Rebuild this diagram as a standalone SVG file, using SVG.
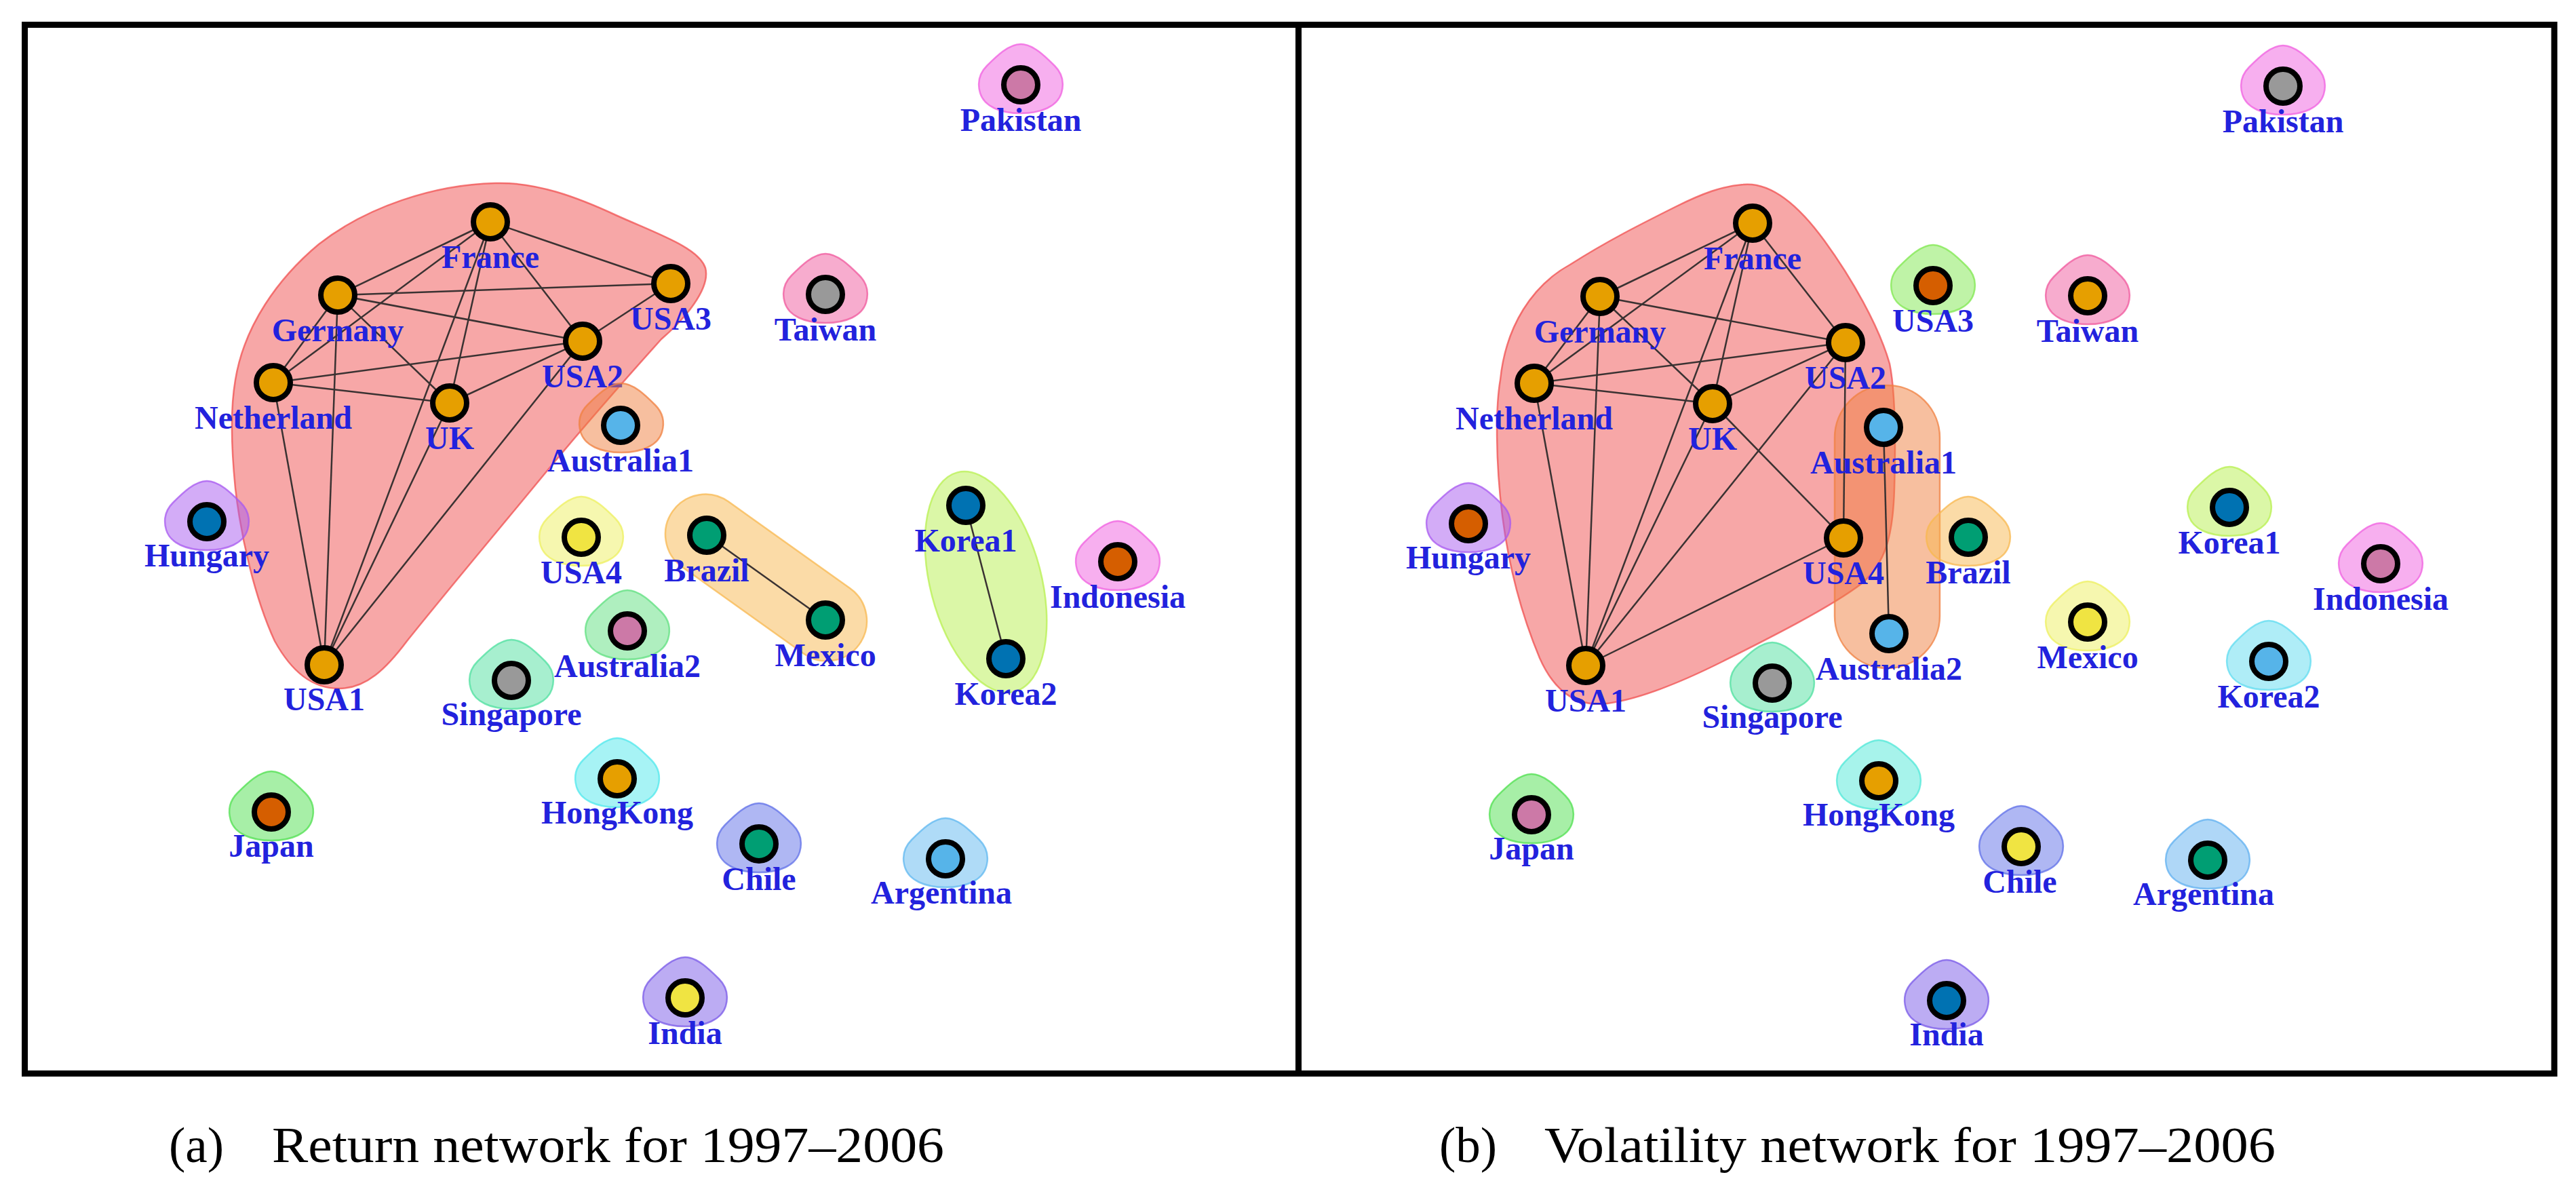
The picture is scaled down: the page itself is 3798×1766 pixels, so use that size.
<svg xmlns="http://www.w3.org/2000/svg" xmlns:xlink="http://www.w3.org/1999/xlink" width="3798" height="1766" viewBox="0 0 3798 1766">
<style>
.hl{fill:currentColor;stroke:currentColor;fill-opacity:.5;stroke-opacity:.75;stroke-width:2.5}
.n{stroke:#000;stroke-width:8}
.lb{font-family:"Liberation Serif",serif;font-weight:bold;font-size:48px;fill:#2222dd;text-anchor:middle}
.e{stroke:#3a3232;stroke-width:2.5;fill:none}
.cap{font-family:"Liberation Serif",serif;font-size:73px;fill:#000}
.or{fill:#e69f00}.sb{fill:#56b4e9}.gr{fill:#009e73}.ye{fill:#f0e442}.bl{fill:#0072b2}.vm{fill:#d55e00}.rp{fill:#cc79a7}.gy{fill:#999999}
</style>
<defs>
<path id="hl" d="M0,-60 C18,-60 36,-42 50,-28 C62,-16 64,-2 60,12 C54,32 30,42 0,42 C-30,42 -54,32 -60,12 C-64,-2 -62,-16 -50,-28 C-36,-42 -18,-60 0,-60 Z"/>
</defs>
<rect width="3798" height="1766" fill="#fff"/>
<g id="frame" fill="none" stroke="#000" stroke-width="9">
<rect x="36.5" y="36.5" width="3729.5" height="1546"/>
<line x1="1914.5" y1="36.5" x2="1914.5" y2="1582.5"/>
</g>
<g id="groups">
<path class="hl" color="#f05050" d="M 730,270 C 790,268 850,290 910,318 C 970,345 1030,365 1040,395 C 1048,425 1010,470 975,500 C 930,550 860,630 810,690 C 740,775 660,870 600,945 C 570,985 540,1015 500,1015 C 460,1015 430,990 405,945 C 375,880 355,790 347,720 C 340,650 340,600 347,560 C 360,480 410,410 470,360 C 540,305 640,272 730,270 Z"/>
<rect class="hl" color="#f8b850" x="960.5" y="792.5" width="338" height="118" rx="59" transform="rotate(35.5 1129.5 851.5)"/>
<ellipse class="hl" color="#b8f050" cx="1453.5" cy="858" rx="167" ry="82" transform="rotate(75.4 1453.5 858)"/>
<path class="hl" color="#f05050" d="M 2570,272 C 2610,268 2650,300 2690,355 C 2730,410 2770,480 2786,536 C 2795,580 2795,650 2793,720 C 2791,790 2780,830 2745,860 C 2700,895 2600,945 2540,975 C 2480,1005 2420,1030 2370,1037 C 2320,1043 2290,1015 2270,970 C 2245,910 2225,840 2215,760 C 2205,680 2205,600 2212,560 C 2220,480 2260,420 2315,390 C 2370,355 2420,330 2470,305 C 2510,285 2540,274 2570,272 Z"/>
<rect class="hl" color="#f08040" x="2705" y="568" width="155" height="417" rx="77"/>
</g>
<g id="edges" class="e">
<line x1="723" y1="327" x2="498" y2="435"/>
<line x1="723" y1="327" x2="989" y2="418"/>
<line x1="723" y1="327" x2="859" y2="503"/>
<line x1="723" y1="327" x2="403" y2="564"/>
<line x1="723" y1="327" x2="663" y2="594"/>
<line x1="723" y1="327" x2="478" y2="980"/>
<line x1="498" y1="435" x2="989" y2="418"/>
<line x1="498" y1="435" x2="859" y2="503"/>
<line x1="498" y1="435" x2="403" y2="564"/>
<line x1="498" y1="435" x2="663" y2="594"/>
<line x1="498" y1="435" x2="478" y2="980"/>
<line x1="989" y1="418" x2="859" y2="503"/>
<line x1="859" y1="503" x2="403" y2="564"/>
<line x1="859" y1="503" x2="663" y2="594"/>
<line x1="859" y1="503" x2="478" y2="980"/>
<line x1="403" y1="564" x2="663" y2="594"/>
<line x1="403" y1="564" x2="478" y2="980"/>
<line x1="663" y1="594" x2="478" y2="980"/>
<line x1="1042" y1="789" x2="1217" y2="914"/>
<line x1="1424" y1="745" x2="1483" y2="971"/>
<line x1="2584" y1="329" x2="2359" y2="437"/>
<line x1="2584" y1="329" x2="2721" y2="505"/>
<line x1="2584" y1="329" x2="2262" y2="565"/>
<line x1="2584" y1="329" x2="2525" y2="595"/>
<line x1="2584" y1="329" x2="2338" y2="981"/>
<line x1="2359" y1="437" x2="2721" y2="505"/>
<line x1="2359" y1="437" x2="2262" y2="565"/>
<line x1="2359" y1="437" x2="2525" y2="595"/>
<line x1="2359" y1="437" x2="2338" y2="981"/>
<line x1="2721" y1="505" x2="2262" y2="565"/>
<line x1="2721" y1="505" x2="2525" y2="595"/>
<line x1="2721" y1="505" x2="2338" y2="981"/>
<line x1="2721" y1="505" x2="2718" y2="793"/>
<line x1="2262" y1="565" x2="2525" y2="595"/>
<line x1="2262" y1="565" x2="2338" y2="981"/>
<line x1="2525" y1="595" x2="2338" y2="981"/>
<line x1="2525" y1="595" x2="2718" y2="793"/>
<line x1="2338" y1="981" x2="2718" y2="793"/>
<line x1="2777" y1="630" x2="2785" y2="934"/>
</g>
<g id="a-pakistan"><use href="#hl" x="1505" y="125" class="hl" color="#f060e0"/><circle cx="1505" cy="125" r="25" class="n rp"/><text x="1505" y="193" class="lb">Pakistan</text></g>
<g id="a-taiwan"><use href="#hl" x="1217" y="434" class="hl" color="#f05a9e"/><circle cx="1217" cy="434" r="25" class="n gy"/><text x="1217" y="502" class="lb">Taiwan</text></g>
<g id="a-france"><circle cx="723" cy="327" r="25" class="n or"/><text x="723" y="395" class="lb">France</text></g>
<g id="a-germany"><circle cx="498" cy="435" r="25" class="n or"/><text x="498" y="503" class="lb">Germany</text></g>
<g id="a-usa3"><circle cx="989" cy="418" r="25" class="n or"/><text x="989" y="486" class="lb">USA3</text></g>
<g id="a-usa2"><circle cx="859" cy="503" r="25" class="n or"/><text x="859" y="571" class="lb">USA2</text></g>
<g id="a-netherland"><circle cx="403" cy="564" r="25" class="n or"/><text x="403" y="632" class="lb">Netherland</text></g>
<g id="a-uk"><circle cx="663" cy="594" r="25" class="n or"/><text x="663" y="662" class="lb">UK</text></g>
<g id="a-australia1"><use href="#hl" x="916" y="625" class="hl" color="#f08040"/><circle cx="915" cy="627" r="25" class="n sb"/><text x="915" y="695" class="lb">Australia1</text></g>
<g id="a-hungary"><use href="#hl" x="305" y="769" class="hl" color="#a85af0"/><circle cx="305" cy="769" r="25" class="n bl"/><text x="305" y="835" class="lb">Hungary</text></g>
<g id="a-usa4"><use href="#hl" x="857" y="792" class="hl" color="#eef060"/><circle cx="857" cy="792" r="25" class="n ye"/><text x="857" y="860" class="lb">USA4</text></g>
<g id="a-brazil"><circle cx="1042" cy="789" r="25" class="n gr"/><text x="1042" y="857" class="lb">Brazil</text></g>
<g id="a-mexico"><circle cx="1217" cy="914" r="25" class="n gr"/><text x="1217" y="982" class="lb">Mexico</text></g>
<g id="a-korea1"><circle cx="1424" cy="745" r="25" class="n bl"/><text x="1424" y="813" class="lb">Korea1</text></g>
<g id="a-korea2"><circle cx="1483" cy="971" r="25" class="n bl"/><text x="1483" y="1039" class="lb">Korea2</text></g>
<g id="a-indonesia"><use href="#hl" x="1648" y="828" class="hl" color="#f060e0"/><circle cx="1648" cy="828" r="25" class="n vm"/><text x="1648" y="896" class="lb">Indonesia</text></g>
<g id="a-singapore"><use href="#hl" x="754" y="1003" class="hl" color="#50e0a0"/><circle cx="754" cy="1003" r="25" class="n gy"/><text x="754" y="1069" class="lb">Singapore</text></g>
<g id="a-australia2"><use href="#hl" x="925" y="930" class="hl" color="#60e080"/><circle cx="925" cy="930" r="25" class="n rp"/><text x="925" y="998" class="lb">Australia2</text></g>
<g id="a-usa1"><circle cx="478" cy="980" r="25" class="n or"/><text x="478" y="1047" class="lb">USA1</text></g>
<g id="a-hongkong"><use href="#hl" x="910" y="1148" class="hl" color="#50e8ec"/><circle cx="910" cy="1148" r="25" class="n or"/><text x="910" y="1214" class="lb">HongKong</text></g>
<g id="a-japan"><use href="#hl" x="400" y="1197" class="hl" color="#50e050"/><circle cx="400" cy="1197" r="25" class="n vm"/><text x="400" y="1263" class="lb">Japan</text></g>
<g id="a-chile"><use href="#hl" x="1119" y="1244" class="hl" color="#6070e8"/><circle cx="1119" cy="1244" r="25" class="n gr"/><text x="1119" y="1312" class="lb">Chile</text></g>
<g id="a-argentina"><use href="#hl" x="1394" y="1266" class="hl" color="#60b8f0"/><circle cx="1394" cy="1266" r="25" class="n sb"/><text x="1388" y="1332" class="lb">Argentina</text></g>
<g id="a-india"><use href="#hl" x="1010" y="1471" class="hl" color="#7a5ae8"/><circle cx="1010" cy="1471" r="25" class="n ye"/><text x="1010" y="1539" class="lb">India</text></g>
<g id="b-pakistan"><use href="#hl" x="3366" y="127" class="hl" color="#f060e0"/><circle cx="3366" cy="127" r="25" class="n gy"/><text x="3366" y="195" class="lb">Pakistan</text></g>
<g id="b-france"><circle cx="2584" cy="329" r="25" class="n or"/><text x="2584" y="397" class="lb">France</text></g>
<g id="b-germany"><circle cx="2359" cy="437" r="25" class="n or"/><text x="2359" y="505" class="lb">Germany</text></g>
<g id="b-usa3"><use href="#hl" x="2850" y="421" class="hl" color="#80e850"/><circle cx="2850" cy="421" r="25" class="n vm"/><text x="2850" y="489" class="lb">USA3</text></g>
<g id="b-taiwan"><use href="#hl" x="3078" y="436" class="hl" color="#f05a9e"/><circle cx="3078" cy="436" r="25" class="n or"/><text x="3078" y="504" class="lb">Taiwan</text></g>
<g id="b-usa2"><circle cx="2721" cy="505" r="25" class="n or"/><text x="2721" y="573" class="lb">USA2</text></g>
<g id="b-netherland"><circle cx="2262" cy="565" r="25" class="n or"/><text x="2262" y="633" class="lb">Netherland</text></g>
<g id="b-uk"><circle cx="2525" cy="595" r="25" class="n or"/><text x="2525" y="663" class="lb">UK</text></g>
<g id="b-australia1"><circle cx="2777" cy="630" r="25" class="n sb"/><text x="2777" y="698" class="lb">Australia1</text></g>
<g id="b-hungary"><use href="#hl" x="2165" y="772" class="hl" color="#a85af0"/><circle cx="2165" cy="772" r="25" class="n vm"/><text x="2165" y="838" class="lb">Hungary</text></g>
<g id="b-usa4"><circle cx="2718" cy="793" r="25" class="n or"/><text x="2718" y="861" class="lb">USA4</text></g>
<g id="b-brazil"><use href="#hl" x="2902" y="792" class="hl" color="#f8b850"/><circle cx="2902" cy="792" r="25" class="n gr"/><text x="2902" y="860" class="lb">Brazil</text></g>
<g id="b-korea1"><use href="#hl" x="3287" y="748" class="hl" color="#b8f050"/><circle cx="3287" cy="748" r="25" class="n bl"/><text x="3287" y="816" class="lb">Korea1</text></g>
<g id="b-indonesia"><use href="#hl" x="3510" y="831" class="hl" color="#f060e0"/><circle cx="3510" cy="831" r="25" class="n rp"/><text x="3510" y="899" class="lb">Indonesia</text></g>
<g id="b-mexico"><use href="#hl" x="3078" y="917" class="hl" color="#eef060"/><circle cx="3078" cy="917" r="25" class="n ye"/><text x="3078" y="985" class="lb">Mexico</text></g>
<g id="b-korea2"><use href="#hl" x="3345" y="975" class="hl" color="#60dcf0"/><circle cx="3345" cy="975" r="25" class="n sb"/><text x="3345" y="1043" class="lb">Korea2</text></g>
<g id="b-singapore"><use href="#hl" x="2613" y="1007" class="hl" color="#50e0a0"/><circle cx="2613" cy="1007" r="25" class="n gy"/><text x="2613" y="1073" class="lb">Singapore</text></g>
<g id="b-australia2"><circle cx="2785" cy="934" r="25" class="n sb"/><text x="2785" y="1002" class="lb">Australia2</text></g>
<g id="b-usa1"><circle cx="2338" cy="981" r="25" class="n or"/><text x="2338" y="1049" class="lb">USA1</text></g>
<g id="b-hongkong"><use href="#hl" x="2770" y="1151" class="hl" color="#50e8d8"/><circle cx="2770" cy="1151" r="25" class="n or"/><text x="2770" y="1217" class="lb">HongKong</text></g>
<g id="b-japan"><use href="#hl" x="2258" y="1201" class="hl" color="#50e050"/><circle cx="2258" cy="1201" r="25" class="n rp"/><text x="2258" y="1267" class="lb">Japan</text></g>
<g id="b-chile"><use href="#hl" x="2980" y="1248" class="hl" color="#6070e8"/><circle cx="2980" cy="1248" r="25" class="n ye"/><text x="2978" y="1316" class="lb">Chile</text></g>
<g id="b-argentina"><use href="#hl" x="3255" y="1268" class="hl" color="#60b0f0"/><circle cx="3255" cy="1268" r="25" class="n gr"/><text x="3249" y="1334" class="lb">Argentina</text></g>
<g id="b-india"><use href="#hl" x="2870" y="1475" class="hl" color="#7a5ae8"/><circle cx="2870" cy="1475" r="25" class="n bl"/><text x="2870" y="1541" class="lb">India</text></g>
<g id="captions">
<text x="249" y="1713" class="cap">(a)</text>
<text x="401" y="1713" class="cap" textLength="991" lengthAdjust="spacingAndGlyphs">Return network for 1997–2006</text>
<text x="2122" y="1713" class="cap">(b)</text>
<text x="2277" y="1713" class="cap" textLength="1078" lengthAdjust="spacingAndGlyphs">Volatility network for 1997–2006</text>
</g>
</svg>
